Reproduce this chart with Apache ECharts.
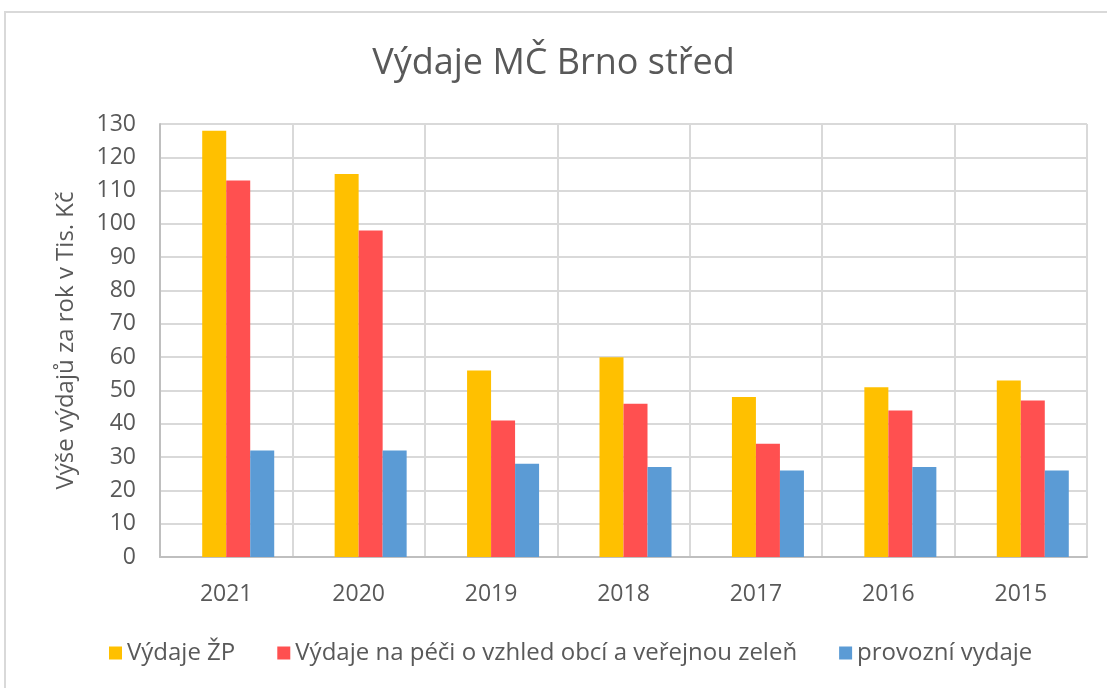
<!DOCTYPE html>
<html>
<head>
<meta charset="utf-8">
<script src="https://cdn.jsdelivr.net/npm/echarts@6/dist/echarts.min.js"></script>
<style>
  html, body { margin: 0; padding: 0; background: #fff; }
  #chart { width: 1107px; height: 688px; }
  #frame { position: absolute; left: 4px; top: 11px; width: 1120px; height: 700px; border: 2px solid #d9d9d9; pointer-events: none; }
</style>
</head>
<body>
<div id="chart"></div>
<div id="frame"></div>
<script>
const years = ['2021', '2020', '2019', '2018', '2017', '2016', '2015'];
const vydajeZP = [128, 115, 56, 60, 48, 51, 53];
const vydajeZelen = [113, 98, 41, 46, 34, 44, 47];
const provozni = [32, 32, 28, 27, 26, 27, 26];
const seriesNames = ['Výdaje ŽP', 'Výdaje na péči o vzhled obcí a veřejnou zeleň', 'provozní vydaje'];
// Excel chart has an empty slot in front of the three bars
const emptySlot = [null, null, null, null, null, null, null];

const textColor = '#595959';
const font = 'Open Sans';

const chart = echarts.init(document.getElementById('chart'));

chart.setOption({
  animation: false,
  textStyle: { fontFamily: font, color: textColor },
  title: {
    text: 'Výdaje MČ Brno střed',
    left: 'center',
    top: 41,
    textStyle: { fontFamily: font, fontSize: 36, fontWeight: 'normal', color: textColor },
  },
  legend: {
    data: seriesNames,
    left: 104,
    top: 636,
    itemWidth: 13,
    itemHeight: 13,
    itemGap: 42,
    icon: 'rect',
    textStyle: { fontFamily: font, fontSize: 24, color: textColor },
  },
  grid: {
    left: 160,
    right: 20,
    top: 124,
    bottom: 131,
  },
  xAxis: {
    type: 'category',
    data: years,
    axisTick: { show: false },
    axisLine: { lineStyle: { color: '#bfbfbf', width: 2 } },
    axisLabel: { fontSize: 23, color: textColor, margin: 26, fontFamily: font },
    splitLine: { show: true, interval: 0, lineStyle: { color: '#d9d9d9', width: 2 } },
  },
  yAxis: {
    type: 'value',
    min: 0,
    max: 130,
    interval: 10,
    name: 'Výše výdajů za rok v Tis. Kč',
    nameLocation: 'middle',
    nameGap: 82,
    nameRotate: 90,
    nameTextStyle: { fontSize: 24, color: textColor, fontFamily: font },
    axisLine: { show: true, lineStyle: { color: '#bfbfbf', width: 2 } },
    axisTick: { show: false },
    axisLabel: { fontSize: 23, color: textColor, margin: 24, fontFamily: font },
    splitLine: { lineStyle: { color: '#d9d9d9', width: 2 } },
  },
  series: [
    {
      name: '',
      type: 'bar',
      data: emptySlot,
      barGap: 0,
      barCategoryGap: '27.5%',
      itemStyle: { color: 'transparent' },
    },
    { name: seriesNames[0], type: 'bar', data: vydajeZP, itemStyle: { color: '#FFC000' } },
    { name: seriesNames[1], type: 'bar', data: vydajeZelen, itemStyle: { color: '#FF5050' } },
    { name: seriesNames[2], type: 'bar', data: provozni, itemStyle: { color: '#5B9BD5' } },
  ],
});
</script>
</body>
</html>
